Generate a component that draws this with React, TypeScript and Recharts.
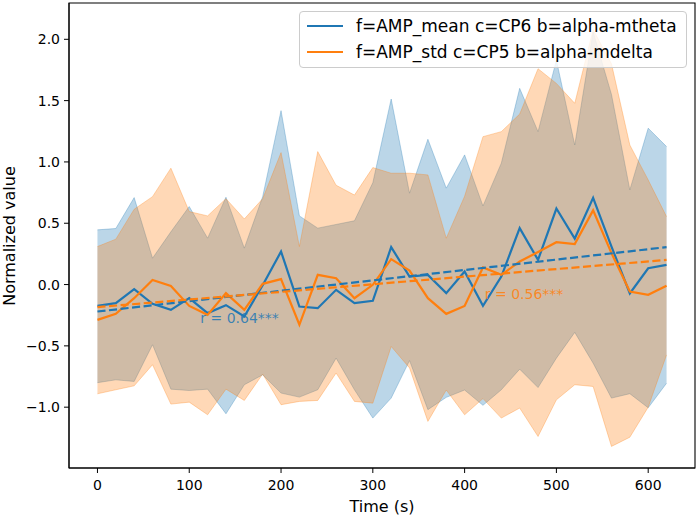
import {
  ComposedChart,
  Area,
  Line,
  XAxis,
  YAxis,
  ReferenceLine,
  ReferenceDot,
  ReferenceArea,
  Label,
} from "recharts";

// time stamps (s)
const times = [
  0, 20, 40, 60, 80, 100, 120, 140, 160, 180, 200, 220, 240, 260, 280, 300,
  320, 340, 360, 380, 400, 420, 440, 460, 480, 500, 520, 540, 560, 580, 600, 620,
];

// f=AMP_mean c=CP6 b=alpha-mtheta
const blueMean = [
  -0.174, -0.152, -0.038, -0.157, -0.206, -0.111, -0.233, -0.168, -0.26, -0.005,
  0.269, -0.179, -0.193, -0.043, -0.152, -0.133, 0.305, 0.065, 0.079, -0.07,
  0.106, -0.174, 0.065, 0.46, 0.201, 0.62, 0.375, 0.707, 0.31, -0.073, 0.133, 0.16,
];
const blueHi = [
  0.446, 0.457, 0.709, 0.215, 0.43, 0.636, 0.378, 0.712, 0.297, 0.717, 1.418,
  0.56, 0.46, 0.49, 0.52, 0.83, 1.513, 0.745, 1.185, 0.786, 1.057, 0.641, 0.99,
  1.6, 1.247, 1.83, 1.138, 2.06, 1.55, 0.772, 1.275, 1.125,
];
const blueLo = [
  -0.8, -0.777, -0.79, -0.491, -0.853, -0.864, -0.853, -1.054, -0.817, -0.736,
  -0.885, -0.918, -0.858, -0.6, -0.858, -1.089, -0.926, -0.62, -1.02, -0.92,
  -0.86, -0.985, -0.858, -0.69, -0.84, -0.6, -0.39, -0.641, -0.926, -0.89,
  -1.005, -0.805,
];

// f=AMP_std c=CP5 b=alpha-mdelta
const orangeMean = [
  -0.288, -0.239, -0.111, 0.038, -0.011, -0.174, -0.247, -0.07, -0.206, 0.006,
  0.044, -0.328, 0.079, 0.052, -0.111, -0.002, 0.207, 0.114, -0.111, -0.239,
  -0.174, 0.139, 0.079, 0.188, 0.265, 0.345, 0.33, 0.605, 0.256, -0.057, -0.084,
  -0.01,
];
const orangeHi = [
  0.31, 0.37, 0.614, 0.717, 0.949, 0.595, 0.56, 0.7, 0.535, 0.7, 1.076, 0.31,
  1.084, 0.81, 0.73, 0.954, 0.908, 0.908, 0.894, 0.378, 0.72, 1.206, 1.247, 1.39,
  1.76, 1.64, 1.478, 2.08, 1.8, 1.138, 0.853, 0.554,
];
const orangeLo = [
  -0.891, -0.858, -0.826, -0.654, -0.975, -0.959, -1.062, -0.853, -0.945, -0.73,
  -0.98, -0.953, -0.945, -0.722, -0.953, -0.967, -0.505, -0.68, -1.116, -0.86,
  -1.062, -0.93, -1.089, -1.007, -1.239, -0.94, -0.817, -0.831, -1.32, -1.245,
  -1.0, -0.574,
];

// fitted trend end points [t, value]
const blueTrend = [
  [0, -0.22],
  [620, 0.305],
];
const orangeTrend = [
  [0, -0.184],
  [620, 0.201],
];

// correlation annotations [t, value, text]
const blueNote: [number, number, string] = [112, -0.315, "r = 0.64***"];
const orangeNote: [number, number, string] = [422, -0.12, "r = 0.56***"];

const seriesNames = [
  "f=AMP_mean c=CP6 b=alpha-mtheta",
  "f=AMP_std c=CP5 b=alpha-mdelta",
];

const xTicks = [0, 100, 200, 300, 400, 500, 600];
const yTicks = [-1, -0.5, 0, 0.5, 1, 1.5, 2];
const xDomain = [-31, 651];
const yDomain = [-1.496, 2.296];

const BLUE = "#1f77b4";
const ORANGE = "#ff7f0e";
const FONT = "'DejaVu Sans', sans-serif";

const data = times.map((t, i) => ({
  t,
  blue: blueMean[i],
  blueBand: [blueLo[i], blueHi[i]],
  orange: orangeMean[i],
  orangeBand: [orangeLo[i], orangeHi[i]],
}));

const fmtY = (v: number) => (v < 0 ? "\u2212" : "") + Math.abs(v).toFixed(1);

const noteShape = (note: [number, number, string], color: string) => (p: any) =>
  (
    <text
      x={p.cx}
      y={p.cy}
      fill={color}
      fillOpacity={0.85}
      fontSize={14}
      fontFamily={FONT}
    >
      {note[2]}
    </text>
  );

export default function App() {
  return (
    <div
      style={{
        position: "absolute",
        left: 0,
        top: 0,
        width: 699,
        height: 516,
        background: "#fff",
        fontFamily: FONT,
      }}
    >
      <ComposedChart
        width={699}
        height={516}
        data={data}
        margin={{ top: 3, right: 4, bottom: 0, left: 0 }}
      >
        <XAxis
          dataKey="t"
          type="number"
          domain={xDomain}
          ticks={xTicks}
          height={48}
          tickSize={5}
          tickMargin={7}
          stroke="#000"
          tick={{ fill: "#000", fontSize: 14, fontFamily: FONT }}
        >
          <Label
            value="Time (s)"
            position="insideBottom"
            offset={4}
            fill="#000"
            fontSize={16}
            fontFamily={FONT}
          />
        </XAxis>
        <YAxis
          type="number"
          domain={yDomain}
          ticks={yTicks}
          width={69}
          tickSize={5}
          tickMargin={4}
          tickFormatter={fmtY}
          stroke="#000"
          tick={{ fill: "#000", fontSize: 14, fontFamily: FONT }}
        >
          <Label
            content={() => (
              <text
                x={15}
                y={236}
                transform="rotate(-90 15 236)"
                textAnchor="middle"
                fill="#000"
                fontSize={16}
                fontFamily={FONT}
              >
                Normalized value
              </text>
            )}
          />
        </YAxis>
        <Area
          dataKey="blueBand"
          fill={BLUE}
          fillOpacity={0.3}
          stroke={BLUE}
          strokeOpacity={0.3}
          strokeWidth={1}
          type="linear"
          isAnimationActive={false}
        />
        <Area
          dataKey="orangeBand"
          fill={ORANGE}
          fillOpacity={0.3}
          stroke={ORANGE}
          strokeOpacity={0.3}
          strokeWidth={1}
          type="linear"
          isAnimationActive={false}
        />
        <ReferenceDot
          x={blueNote[0]}
          y={blueNote[1]}
          r={1}
          shape={noteShape(blueNote, BLUE)}
        />
        <ReferenceDot
          x={orangeNote[0]}
          y={orangeNote[1]}
          r={1}
          shape={noteShape(orangeNote, ORANGE)}
        />
        <Line
          dataKey="blue"
          stroke={BLUE}
          strokeWidth={2.2}
          dot={false}
          type="linear"
          isAnimationActive={false}
        />
        <Line
          dataKey="orange"
          stroke={ORANGE}
          strokeWidth={2.2}
          dot={false}
          type="linear"
          isAnimationActive={false}
        />
        <ReferenceLine
          segment={blueTrend.map(([x, y]) => ({ x, y }))}
          stroke={BLUE}
          strokeWidth={2.2}
          strokeDasharray="8.1 3.5"
        />
        <ReferenceLine
          segment={orangeTrend.map(([x, y]) => ({ x, y }))}
          stroke={ORANGE}
          strokeWidth={2.2}
          strokeDasharray="8.1 3.5"
        />
        <ReferenceArea
          x1={xDomain[0]}
          x2={xDomain[1]}
          y1={yDomain[0]}
          y2={yDomain[1]}
          fill="none"
          stroke="#000"
          strokeWidth={1.1}
          ifOverflow="visible"
        />
      </ComposedChart>
      <div
        style={{
          position: "absolute",
          left: 299,
          top: 11,
          width: 388,
          height: 57,
          boxSizing: "border-box",
          border: "1px solid #cccccc",
          borderRadius: 4,
          background: "rgba(255,255,255,0.8)",
          fontSize: 17,
          color: "#000",
        }}
      >
        {seriesNames.map((name, i) => (
          <div
            key={name}
            style={{
              position: "absolute",
              left: 7,
              top: 3 + i * 26,
              height: 22,
              display: "flex",
              alignItems: "center",
              whiteSpace: "nowrap",
            }}
          >
            <span
              style={{
                display: "inline-block",
                width: 36,
                height: 2.2,
                background: i === 0 ? BLUE : ORANGE,
                marginRight: 13,
              }}
            />
            <span>{name}</span>
          </div>
        ))}
      </div>
    </div>
  );
}
